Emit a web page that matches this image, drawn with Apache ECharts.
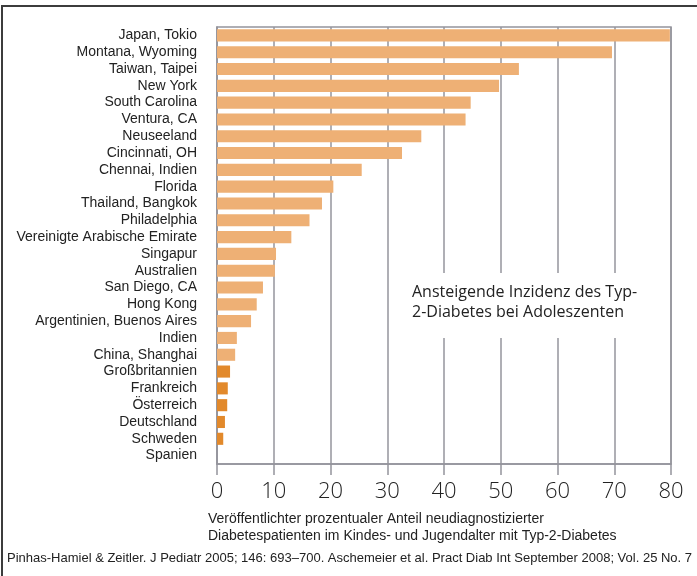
<!DOCTYPE html>
<html>
<head>
<meta charset="utf-8">
<script src="https://cdn.jsdelivr.net/npm/echarts@6/dist/echarts.min.js"></script>
<style>
  html, body { margin: 0; padding: 0; background: #fff; }
  #chart { width: 697px; height: 576px; }
</style>
</head>
<body>
<div id="chart"></div>
<script>
// Regionen, von oben nach unten
var regions = [
  'Japan, Tokio', 'Montana, Wyoming', 'Taiwan, Taipei', 'New York',
  'South Carolina', 'Ventura, CA', 'Neuseeland', 'Cincinnati, OH',
  'Chennai, Indien', 'Florida', 'Thailand, Bangkok', 'Philadelphia',
  'Vereinigte Arabische Emirate', 'Singapur', 'Australien', 'San Diego, CA',
  'Hong Kong', 'Argentinien, Buenos Aires', 'Indien', 'China, Shanghai',
  'Großbritannien', 'Frankreich', 'Österreich', 'Deutschland', 'Schweden', 'Spanien'
];
// Anteil Typ-2-Diabetes in %
var shares = [
  79.8, 69.6, 53.2, 49.7, 44.7, 43.8, 36.0, 32.6, 25.5, 20.5, 18.5, 16.3,
  13.1, 10.4, 10.2, 8.1, 7.0, 6.0, 3.5, 3.2, 2.3, 1.9, 1.8, 1.4, 1.1, 0
];
// europäische Länder dunkler markiert
var europe = ['Großbritannien', 'Frankreich', 'Österreich', 'Deutschland', 'Schweden', 'Spanien'];
var xTicks = [0, 10, 20, 30, 40, 50, 60, 70, 80];

var lightOrange = '#eeb075';
var darkOrange = '#e2892b';
var gridGrey = '#94949c';
var font = 'Liberation Sans Narrow, Liberation Sans, sans-serif';

var chart = echarts.init(document.getElementById('chart'));

var option = {
  animation: false,
  grid: {
    left: 217, right: 26, top: 27, bottom: 112,
    show: true, borderColor: gridGrey, borderWidth: 1.5, backgroundColor: 'transparent'
  },
  xAxis: {
    type: 'value',
    min: xTicks[0],
    max: xTicks[xTicks.length - 1],
    interval: 10,
    axisLine: { show: true, lineStyle: { color: gridGrey, width: 1.5 } },
    axisTick: { show: true, length: 11, lineStyle: { color: gridGrey, width: 1.5 } },
    axisLabel: { fontSize: 22, color: '#222', margin: 17, fontFamily: 'Open Sans, sans-serif', fontWeight: 300 },
    splitLine: { show: true, lineStyle: { color: gridGrey, width: 1.5 } }
  },
  yAxis: {
    type: 'category',
    data: regions,
    inverse: true,
    axisLine: { show: true, lineStyle: { color: gridGrey, width: 1.5 } },
    axisTick: { show: false },
    axisLabel: { interval: 0, fontSize: 14, color: '#222', margin: 20, fontFamily: font }
  },
  title: [
    {
      text: 'Veröffentlichter prozentualer Anteil neudiagnostizierter\nDiabetespatienten im Kindes- und Jugendalter mit Typ-2-Diabetes',
      left: 203, top: 506,
      textStyle: { fontSize: 14, fontWeight: 'normal', color: '#222', lineHeight: 17, fontFamily: font }
    },
    {
      text: 'Pinhas-Hamiel & Zeitler. J Pediatr 2005; 146: 693–700. Aschemeier et al. Pract Diab Int September 2008; Vol. 25 No. 7',
      left: 2, top: 547,
      textStyle: { fontSize: 13, fontWeight: 'normal', color: '#222', fontFamily: font }
    }
  ],
  graphic: [
    { type: 'rect', shape: { x: 1, y: 5, width: 2, height: 571 }, style: { fill: '#3c3c3c' }, z: 100 },
    { type: 'rect', shape: { x: 1, y: 5, width: 696, height: 2 }, style: { fill: '#3c3c3c' }, z: 100 },
    { type: 'rect', shape: { x: 404, y: 273, width: 250, height: 65 }, style: { fill: '#fff' }, z: 100 },
    {
      type: 'text', left: 412, top: 282, z: 101,
      style: {
        text: 'Ansteigende Inzidenz des Typ-\n2-Diabetes bei Adoleszenten',
        fontSize: 16, lineHeight: 20, fill: '#222', fontFamily: 'Open Sans, sans-serif'
      }
    }
  ],
  series: [
    {
      type: 'bar',
      barCategoryGap: '28%',
      data: shares.map(function (v, i) {
        return {
          value: v,
          itemStyle: { color: europe.indexOf(regions[i]) >= 0 ? darkOrange : lightOrange }
        };
      })
    }
  ]
};

option && chart.setOption(option);
</script>
</body>
</html>
